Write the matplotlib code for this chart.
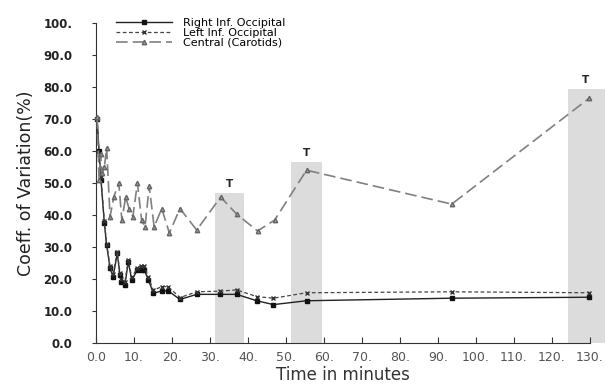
import matplotlib
matplotlib.use("Agg")
import matplotlib.pyplot as plt

# Central (Carotids)
c_x = [0.3, 0.8, 1.2, 1.6, 2.2, 2.8, 3.7, 4.7, 6.0, 6.8, 7.8, 8.7, 9.7, 10.9, 12.0, 12.9, 14.0, 15.3,
       17.3, 19.3, 22.1, 26.5, 32.8, 37.0, 42.5, 47.0, 55.4, 93.6, 129.8]
c_y = [70.5, 51, 59, 53, 55, 61, 39.5, 45.7, 50, 38.4, 45.6, 42, 39.5, 50, 38.4, 36.3, 49, 36.3,
       42, 34.4, 42, 35.3, 45.6, 40.3, 35, 38.4, 54, 43.4, 76.5]
# Right Inf. Occipital
r_x = [0.3, 0.8, 1.3, 2.2, 2.8, 3.7, 4.5, 5.6, 6.3, 6.7, 7.6, 8.5, 9.4, 10.9, 11.8, 12.7, 13.8, 15.1,
       17.3, 19.0, 22.1, 26.5, 32.6, 37.0, 42.3, 46.7, 55.4, 93.6, 129.8]
r_y = [70, 60, 51, 37.4, 30.6, 23.3, 20.7, 28, 21.3, 19.2, 18.1, 25.4, 19.7, 22.8, 22.8, 22.8, 19.7, 15.5,
       16.3, 16.3, 13.6, 15.2, 15.2, 15.2, 13.2, 12.0, 13.2, 14.0, 14.3]
# Left Inf. Occipital
l_x = r_x
l_y = [70, 59, 52, 38, 31, 24, 21.5, 28.5, 22, 20, 19, 26, 20.5, 23.5, 24.2, 24, 20.5, 16.5,
       17.6, 17.6, 14.2, 16.0, 16.2, 16.6, 14.5, 14.0, 15.7, 16.0, 15.7]

# shaded periods (start, end, height)
shade_start = [31.3, 51.3, 124.2]
shade_end = [38.9, 59.5, 134.0]
shade_top = [47.0, 56.5, 79.4]
t_x = [35.0, 55.3, 128.7]

x_ticks = [0, 10, 20, 30, 40, 50, 60, 70, 80, 90, 100, 110, 120, 130]
x_labels = ["0.0", "10.", "20.", "30.", "40.", "50.", "60.", "70.", "80.", "90.", "100.", "110.", "120.", "130."]
y_ticks = [0, 10, 20, 30, 40, 50, 60, 70, 80, 90, 100]
y_labels = ["0.0", "10.0", "20.0", "30.0", "40.0", "50.0", "60.0", "70.0", "80.0", "90.0", "100."]

fig = plt.figure(figsize=(6.07, 3.91), dpi=100)
ax = fig.add_axes([96 / 607, 1 - 343 / 391, (590 - 96) / 607, (343 - 23) / 391])

for s, e, h, tx in zip(shade_start, shade_end, shade_top, t_x):
    ax.bar((s + e) / 2, h, width=e - s, bottom=0, color="#dcdcdc", edgecolor="none",
           clip_on=False, zorder=0)
    ax.text(tx, h + 1.2, "T", ha="center", va="bottom", fontsize=7.5, fontweight="bold", color="#222")

ax.plot(r_x, r_y, "-", color="#222", lw=1.0, marker="s", ms=3, mfc="#111", mec="#111",
        label="Right Inf. Occipital", clip_on=False, zorder=3)
ax.plot(l_x, l_y, "--", color="#444", lw=0.9, dashes=(3, 2), marker="x", ms=2.8, mec="#333",
        label="Left Inf. Occipital", clip_on=False, zorder=3)
ax.plot(c_x, c_y, color="#808080", lw=1.2, dashes=(7, 3), marker="^", ms=3.2,
        mfc="#999", mec="#666", label="Central (Carotids)", clip_on=False, zorder=3)

ax.set_xlim(0, 130)
ax.set_ylim(0, 100)
ax.spines["top"].set_visible(False)
ax.spines["right"].set_visible(False)
ax.spines["left"].set_color("#333")
ax.spines["bottom"].set_color("#333")
ax.set_xticks(x_ticks)
ax.set_xticklabels(x_labels, fontsize=9, color="#555")
ax.set_yticks(y_ticks)
ax.set_yticklabels(y_labels, fontsize=8.5, fontweight="bold", color="#222")
ax.tick_params(axis="x", direction="in", length=4, pad=6, color="#333")
ax.tick_params(axis="y", direction="out", length=3, pad=14, color="#333")
ax.set_xlabel("Time in minutes", fontsize=12, color="#333", labelpad=1)
ax.set_ylabel("Coeff. of Variation(%)", fontsize=12.5, color="#222", labelpad=6)

leg = ax.legend(loc="upper left", bbox_to_anchor=(0.025, 1.04), frameon=False, fontsize=8,
                labelspacing=0.0, handlelength=5.0, handletextpad=1.0, borderaxespad=0.3)

fig.savefig("out.png", dpi=100)
